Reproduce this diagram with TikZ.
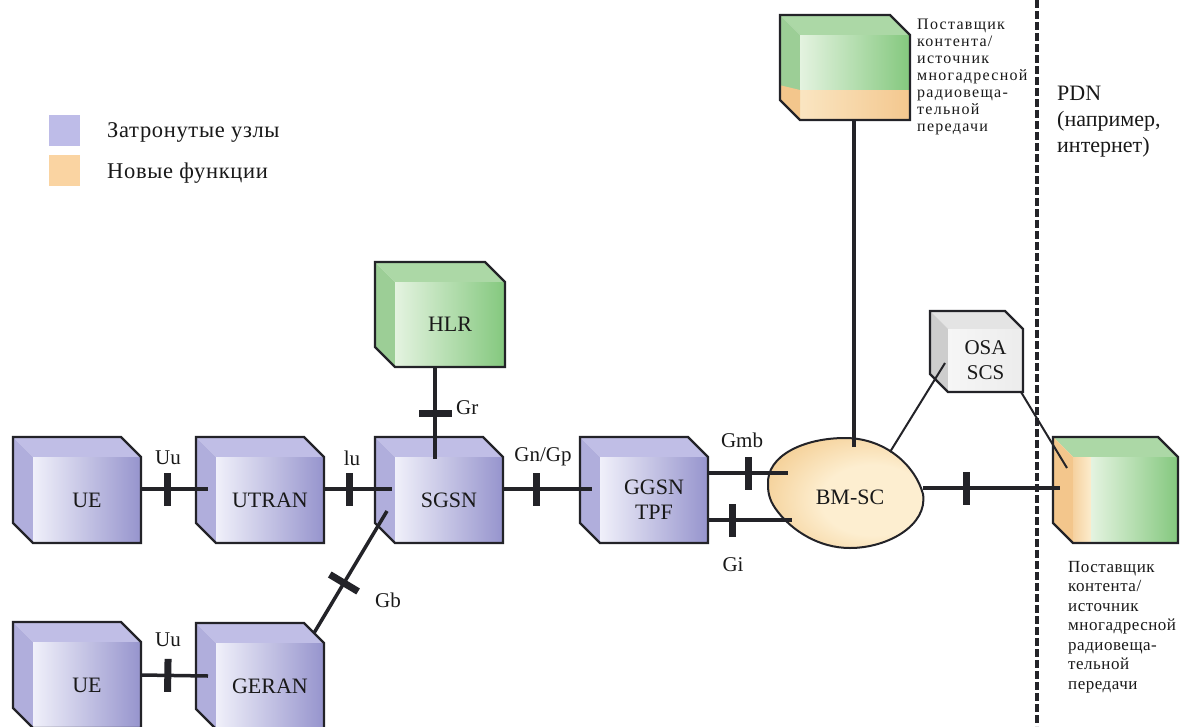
\documentclass[tikz,border=0pt]{standalone}
\usepackage{fontspec}
\setmainfont{Liberation Serif}
\newfontfamily\spacedfont[LetterSpace=8]{Liberation Serif}
\newfontfamily\spacedfontb[LetterSpace=3]{Liberation Serif}
\usetikzlibrary{calc,backgrounds}
\definecolor{edge}{RGB}{35,35,40}
\definecolor{puTop}{RGB}{192,190,230}
\definecolor{puLeft}{RGB}{176,174,220}
\definecolor{puFL}{RGB}{240,240,250}
\definecolor{puFR}{RGB}{150,148,205}
\definecolor{grTop}{RGB}{172,216,166}
\definecolor{grLeft}{RGB}{156,206,150}
\definecolor{grFL}{RGB}{228,243,224}
\definecolor{grFR}{RGB}{132,200,126}
\definecolor{orA}{RGB}{243,198,140}
\definecolor{orB}{RGB}{252,236,205}
\definecolor{gyTop}{RGB}{228,228,228}
\definecolor{gyLeft}{RGB}{205,205,205}
\definecolor{gyFL}{RGB}{246,246,246}
\definecolor{gyFR}{RGB}{236,236,236}
\definecolor{legPu}{RGB}{190,188,232}
\definecolor{legOr}{RGB}{250,212,162}
\definecolor{bmIn}{RGB}{253,238,208}
\definecolor{bmMid}{RGB}{245,210,155}
\definecolor{bmOut}{RGB}{222,170,95}
\newcommand\boxfnt{\fontsize{22}{25}\selectfont}
\newcommand\lblfnt{\fontsize{21}{25}\selectfont}
\pgfdeclareradialshading{bmshade}{\pgfpoint{10bp}{-4bp}}{color(0bp)=(bmIn); color(16bp)=(bmIn); color(32bp)=(bmMid); color(52bp)=(bmOut); color(80bp)=(bmOut)}
% #1 node, #2 depth, #3 top, #4 left, #5 front left, #6 front right
\newcommand\cubefill[6]{%
  \fill[#3] ($(#1.north west)+(-#2,-#2)$) -- ($(#1.north east)+(-#2,-#2)$) -- (#1.north east) -- (#1.north west) -- cycle;
  \fill[#4] ($(#1.north west)+(-#2,-#2)$) -- (#1.north west) -- (#1.south west) -- ($(#1.south west)+(-#2,-#2)$) -- cycle;
  \shade[left color=#5, right color=#6] (#1.north west) rectangle (#1.south east);}
\newcommand\cubeline[2]{%
  \draw[edge, line width=2.4pt, line join=miter] ($(#1.north west)+(-#2,-#2)$) -- ($(#1.north east)+(-#2,-#2)$) -- (#1.north east) -- (#1.south east) -- (#1.south west) -- ($(#1.south west)+(-#2,-#2)$) -- cycle;}
\tikzset{
  cubebox/.style={minimum width=108pt, minimum height=86pt, inner sep=0pt, outer sep=0pt, font=\boxfnt, align=center, text=black!90},
  lbl/.style={font=\lblfnt, inner sep=1pt, text=black!90},
  conn/.style={edge, line width=3.5pt},
  thin conn/.style={edge, line width=2pt},
  tickmark/.style={fill=edge, minimum width=7pt, minimum height=33pt, inner sep=0pt, outer sep=0pt, sloped},
}
\begin{document}
\begin{tikzpicture}[x=1pt,y=-1pt]
\useasboundingbox (0,0) rectangle (1181,726);

% legend
\node[fill=legPu, minimum size=31pt, inner sep=0pt] (lg1) at (64.5,130) {};
\node[fill=legOr, minimum size=31pt, inner sep=0pt] (lg2) at (64.5,170) {};
\node[font=\spacedfontb\fontsize{22.5}{26}\selectfont, anchor=west, inner sep=0pt, text=black!90] (lt1) at (107,132) {Затронутые узлы};
\node[font=\spacedfontb\fontsize{22.5}{26}\selectfont, anchor=west, inner sep=0pt, text=black!90] (lt2) at (107,173) {Новые функции};

% boxes (front faces)
\node[cubebox] (UE1) at (87,500) {UE};
\node[cubebox] (UTRAN) at (270,500) {UTRAN};
\node[cubebox] (SGSN) at (449,500) {SGSN};
\node[cubebox] (GGSN) at (654,500) {GGSN\\TPF};
\node[cubebox] (UE2) at (87,685) {UE};
\node[cubebox] (GERAN) at (270,686) {GERAN};
\node[cubebox, minimum width=110pt, minimum height=85pt] (HLR) at (450,324.5) {HLR};
\node[cubebox, minimum width=110pt, minimum height=85pt] (TOP) at (855,77.5) {};
\node[cubebox, minimum width=105pt, minimum height=86pt] (RC) at (1125.5,500) {};
\node[cubebox, minimum width=75pt, minimum height=63pt, font=\lblfnt, align=center] (OSA) at (985.5,360.5) {OSA\\SCS};
\node[font=\boxfnt, inner sep=1pt, text=black!90] (BMSC) at (850,497) {BM-SC};

\begin{scope}[on background layer]
  \fill[white] (0,0) rectangle (1181,726);
  \cubefill{UE1}{20}{puTop}{puLeft}{puFL}{puFR}\cubeline{UE1}{20}
  \cubefill{UTRAN}{20}{puTop}{puLeft}{puFL}{puFR}\cubeline{UTRAN}{20}
  \cubefill{SGSN}{20}{puTop}{puLeft}{puFL}{puFR}\cubeline{SGSN}{20}
  \cubefill{GGSN}{20}{puTop}{puLeft}{puFL}{puFR}\cubeline{GGSN}{20}
  \cubefill{UE2}{20}{puTop}{puLeft}{puFL}{puFR}\cubeline{UE2}{20}
  \cubefill{GERAN}{20}{puTop}{puLeft}{puFL}{puFR}\cubeline{GERAN}{20}
  \cubefill{HLR}{20}{grTop}{grLeft}{grFL}{grFR}\cubeline{HLR}{20}
  % top content provider: green with orange bottom band
  \cubefill{TOP}{20}{grTop}{grLeft}{grFL}{grFR}
  \begin{scope}
    \clip ($(TOP.north west)+(-20,-20)$) -- ($(TOP.north east)+(-20,-20)$) -- (TOP.north east) -- (TOP.south east) -- (TOP.south west) -- ($(TOP.south west)+(-20,-20)$) -- cycle;
    \shade[left color=orB, right color=orA] (775,90) rectangle (915,125);
    \fill[orA] (775,84) -- (800,90) -- (800,125) -- (775,125) -- cycle;
  \end{scope}
  \cubeline{TOP}{20}
  % right content provider: orange left, green front
  \cubefill{RC}{20}{grTop}{orA}{grFL}{grFR}
  \shade[left color=orA!70!orB, right color=orB] (RC.north west) rectangle ($(RC.south west)+(18,0)$);
  \shade[left color=grFL, right color=grFR] ($(RC.north west)+(18,0)$) rectangle (RC.south east);
  \cubeline{RC}{20}
  \cubefill{OSA}{18}{gyTop}{gyLeft}{gyFL}{gyFR}\cubeline{OSA}{18}
  % BM-SC blob
  \shadedraw[shading=bmshade, draw=edge, line width=2pt]
    (768,485) .. controls (766,455) and (805,438) .. (845,438)
    .. controls (885,438) and (915,465) .. (923,494)
    .. controls (928,525) and (888,548) .. (850,548)
    .. controls (818,548) and (792,530) .. (778,512)
    .. controls (770,502) and (768,494) .. (768,485) -- cycle;
\end{scope}

% dashed boundary
\coordinate (dtop) at (1037,0);
\coordinate (dbot) at (1037,726);
\draw[edge, line width=4pt, dash pattern=on 8pt off 3pt] (dtop) -- (dbot);

% connectors
\draw[conn] ([yshift=11pt]UE1.east) -- node[tickmark, pos=0.40] (k1) {} ([yshift=11pt,xshift=-8pt]UTRAN.west);
\draw[conn] ([yshift=11pt]UTRAN.east) -- node[tickmark, pos=0.38] (k2) {} ([yshift=11pt,xshift=-3pt]SGSN.west);
\draw[conn] ([yshift=11pt]SGSN.east) -- node[tickmark, pos=0.38] (k3) {} ([yshift=11pt,xshift=-8pt]GGSN.west);
\draw[conn] ([yshift=10pt]UE2.east) -- node[tickmark, pos=0.40] (k4) {} ([yshift=10pt,xshift=-8pt]GERAN.west);
\draw[conn] ([xshift=-15pt]HLR.south) -- node[tickmark, pos=0.51] (k5) {} ([xshift=-14pt,yshift=-2pt]SGSN.north);
\draw[conn] ($(GERAN.north east)+(-10,-10)$) -- node[tickmark, pos=0.41] (k6) {} ([xshift=-8pt,yshift=-11pt]SGSN.west);
\draw[conn] ([yshift=27pt]GGSN.east) -- node[tickmark, pos=0.5] (k7) {} ([xshift=-62pt,yshift=24pt]BMSC.center);
\draw[conn] ([yshift=-20pt]GGSN.east) -- node[tickmark, pos=0.29] (k8) {} ([xshift=-58pt,yshift=-23pt]BMSC.center);
\draw[conn] ([xshift=4pt,yshift=50pt]BMSC.center) -- ([xshift=-1pt]TOP.south);
\draw[conn] ([xshift=73pt,yshift=9pt]BMSC.center) -- node[tickmark, pos=0.32] (k9) {} ([xshift=-13pt,yshift=12pt]RC.west);
\draw[thin conn] ([xshift=40pt,yshift=45pt]BMSC.center) -- ([xshift=-3pt,yshift=-2.5pt]OSA.west);
\draw[thin conn] ([xshift=-2pt]OSA.south east) -- ([xshift=-6pt,yshift=-11pt]RC.north west);

% interface labels
\node[lbl] (lUu1) at (168,458) {Uu};
\node[lbl] (llu) at (352,458) {lu};
\node[lbl] (lGn) at (543,457) {Gn/Gp};
\node[lbl, anchor=west] (lGr) at (455,408) {Gr};
\node[lbl] (lGb) at (388,600) {Gb};
\node[lbl] (lGmb) at (742,440) {Gmb};
\node[lbl] (lGi) at (733,565) {Gi};
\node[lbl] (lUu2) at (168,640) {Uu};

% texts
\node[font=\spacedfont\fontsize{16}{17}\selectfont, anchor=north west, align=left, inner sep=0pt, text=black!90] (ttop) at (917,19) {Поставщик\\контента/\\источник\\многадресной\\радиовеща-\\тельной\\передачи};
\node[font=\spacedfontb\fontsize{17}{19.5}\selectfont, anchor=north west, align=left, inner sep=0pt, text=black!90] (tbot) at (1068,561) {Поставщик\\контента/\\источник\\многадресной\\радиовеща-\\тельной\\передачи};
\node[font=\fontsize{22}{26}\selectfont, anchor=north west, align=left, inner sep=0pt, text=black!90] (tpdn) at (1057,86) {PDN\\(например,\\интернет)};
\end{tikzpicture}
\end{document}
